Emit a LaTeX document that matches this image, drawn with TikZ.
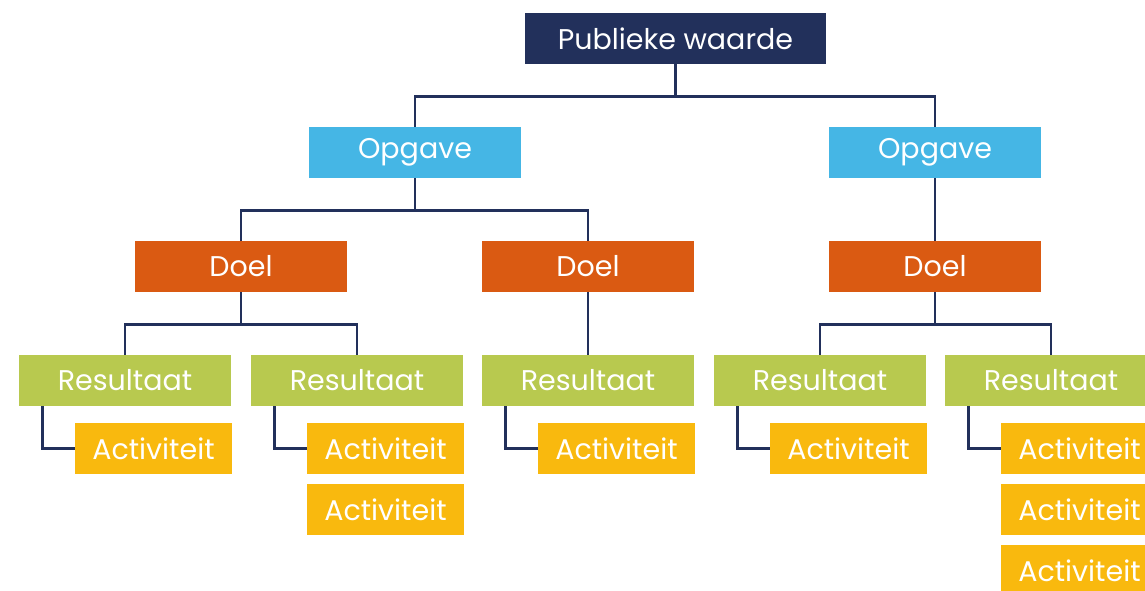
\documentclass[tikz,border=0pt]{standalone}
\usepackage{fontspec}
\setmainfont{Poppins}
\definecolor{navy}{HTML}{22305B}
\definecolor{skyb}{HTML}{45B6E5}
\definecolor{rust}{HTML}{DA5A12}
\definecolor{lime}{HTML}{B8C94F}
\definecolor{gold}{HTML}{F9B90E}
\begin{document}
\begin{tikzpicture}[x=1pt,y=-1pt,
  box/.style={inner sep=0pt,minimum height=51pt,text=white,font=\fontsize{28.5}{32}\selectfont},
  topbox/.style={box,fill=navy,minimum width=301pt},
  opbox/.style={box,fill=skyb,minimum width=212pt},
  doelbox/.style={box,fill=rust,minimum width=212pt},
  resbox/.style={box,fill=lime,minimum width=212pt},
  actbox/.style={box,fill=gold,minimum width=157pt},
  link/.style={draw=navy,line width=2.8pt}]
\useasboundingbox (0,0) rectangle (1145,591);
\clip (0,0) rectangle (1145,591);
\node[topbox] (pw) at (675.5,38.5) {Publieke waarde};
\node[opbox] (op1) at (415,152.5) {Opgave};
\node[opbox] (op2) at (935,152.5) {Opgave};
\node[doelbox] (d1) at (241,266.5) {Doel};
\node[doelbox] (d2) at (588,266.5) {Doel};
\node[doelbox] (d3) at (935,266.5) {Doel};
\node[resbox] (r1) at (125,380.5) {Resultaat};
\node[resbox] (r2) at (357,380.5) {Resultaat};
\node[resbox] (r3) at (588,380.5) {Resultaat};
\node[resbox] (r4) at (820,380.5) {Resultaat};
\node[resbox] (r5) at (1051,380.5) {Resultaat};
\node[actbox] (a1) at (153.5,448.5) {Activiteit};
\node[actbox] (a2) at (385.5,448.5) {Activiteit};
\node[actbox] (a2b) at (385.5,509.5) {Activiteit};
\node[actbox] (a3) at (616.5,448.5) {Activiteit};
\node[actbox] (a4) at (848.5,448.5) {Activiteit};
\node[actbox] (a5) at (1079.5,448.5) {Activiteit};
\node[actbox] (a5b) at (1079.5,509.5) {Activiteit};
\node[actbox] (a5c) at (1079.5,570.5) {Activiteit};
\draw[link] (pw.south) -- ++(0,32.5) -| (op1.north);
\draw[link] (pw.south) -- ++(0,32.5) -| (op2.north);
\draw[link] (op1.south) -- ++(0,32.5) -| (d1.north);
\draw[link] (op1.south) -- ++(0,32.5) -| (d2.north);
\draw[link] (op2.south) -- (d3.north);
\draw[link] (d1.south) -- ++(0,32.5) -| (r1.north);
\draw[link] (d1.south) -- ++(0,32.5) -| (r2.north);
\draw[link] (d2.south) -- (r3.north);
\draw[link] (d3.south) -- ++(0,32.5) -| (r4.north);
\draw[link] (d3.south) -- ++(0,32.5) -| (r5.north);
\draw[link] ([xshift=24pt]r1.south west) |- (a1.west);
\draw[link] ([xshift=24pt]r2.south west) |- (a2.west);
\draw[link] ([xshift=24pt]r3.south west) |- (a3.west);
\draw[link] ([xshift=24pt]r4.south west) |- (a4.west);
\draw[link] ([xshift=24pt]r5.south west) |- (a5.west);
\end{tikzpicture}
\end{document}
